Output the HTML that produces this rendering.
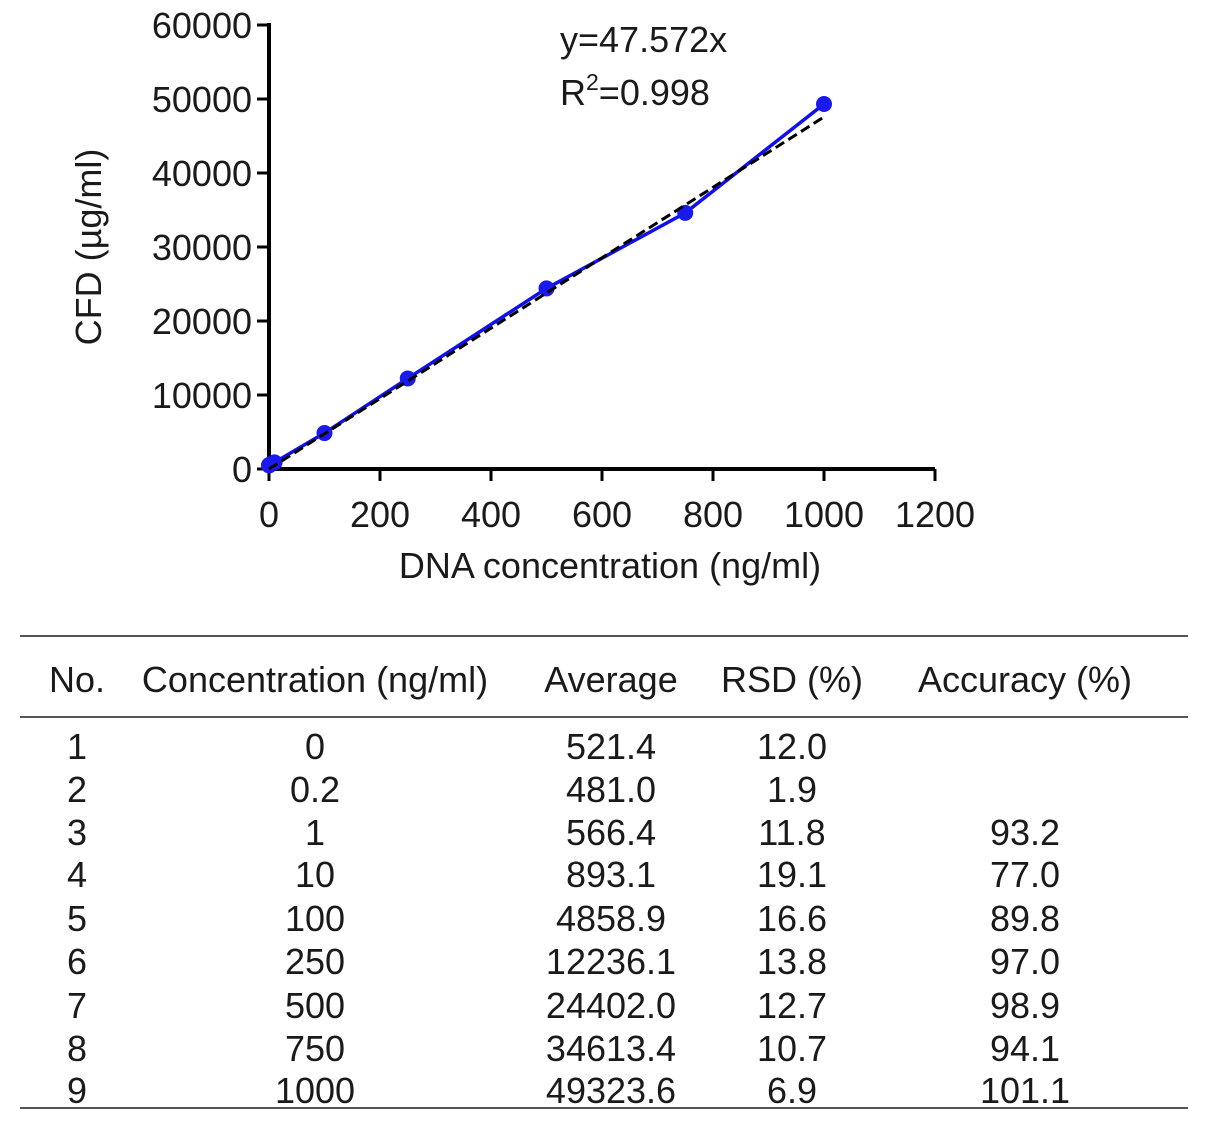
<!DOCTYPE html>
<html><head><meta charset="utf-8"><style>
body{margin:0;background:#fff;width:1205px;height:1126px;overflow:hidden;font-family:"Liberation Sans",Arial,sans-serif}
svg text{font-family:"Liberation Sans",Arial,sans-serif;fill:#1a1a1a}
</style></head><body>
<svg id="s" width="1205" height="1126">
<g id="chart"></g>
<g id="table"></g>
</svg>
<script>
const xVals=[0,0.2,1,10,100,250,500,750,1000];
const yVals=[521.4,481.0,566.4,893.1,4858.9,12236.1,24402.0,34613.4,49323.6];
const xTicks=[0,200,400,600,800,1000,1200];
const yTicks=[0,10000,20000,30000,40000,50000,60000];
const slope=47.572;
const rsd=["12.0","1.9","11.8","19.1","16.6","13.8","12.7","10.7","6.9"];
const acc=["","","93.2","77.0","89.8","97.0","98.9","94.1","101.1"];
const concLabels=["0","0.2","1","10","100","250","500","750","1000"];

const NS="http://www.w3.org/2000/svg";
const X0=269,X1=935,Y0=469,Y1=25;
const FS=36;
const sx=v=>X0+(v/1200)*(X1-X0);
const sy=v=>Y0-(v/60000)*(Y0-Y1);
const chart=document.getElementById('chart');
const tbl=document.getElementById('table');
function mk(tag,attrs,parent,text){const e=document.createElementNS(NS,tag);for(const k in attrs)e.setAttribute(k,attrs[k]);if(text!==undefined)e.textContent=text;parent.appendChild(e);return e;}

let e;
e=mk('line',{x1:X0,y1:Y0,x2:X1,y2:Y0,stroke:'#000','stroke-width':4},chart);


e=mk('line',{x1:X0,y1:Y0,x2:X0,y2:Y1-2,stroke:'#000','stroke-width':4},chart);


xTicks.forEach(t=>{
 mk('line',{x1:sx(t),y1:Y0,x2:sx(t),y2:Y0+12,stroke:'#000','stroke-width':3},chart);
 e=mk('text',{x:sx(t),y:Y0+58,'font-size':FS,'text-anchor':'middle'},chart,t);
 
 
});
yTicks.forEach(t=>{
 mk('line',{x1:X0-12,y1:sy(t),x2:X0,y2:sy(t),stroke:'#000','stroke-width':3},chart);
 e=mk('text',{x:X0-17,y:sy(t)+13,'font-size':FS,'text-anchor':'end'},chart,t);
 
 
});
e=mk('text',{x:610,y:578,'font-size':FS,'text-anchor':'middle'},chart,'DNA concentration (ng/ml)');


e=mk('text',{x:0,y:0,'font-size':FS,'text-anchor':'middle',transform:'translate(101,247) rotate(-90)'},chart,'CFD (µg/ml)');


e=mk('text',{x:560,y:52,'font-size':FS},chart,'y=47.572x');


e=mk('text',{x:560,y:105,'font-size':FS},chart,'');


e.innerHTML='R<tspan dy="-15" font-size="23">2</tspan><tspan dy="15">=0.998</tspan>';
e=mk('polyline',{points:xVals.map((x,i)=>sx(x)+','+sy(yVals[i])).join(' '),fill:'none',stroke:'#1010ee','stroke-width':3.5},chart);


xVals.forEach((x,i)=>{
 const c=mk('circle',{cx:sx(x),cy:sy(yVals[i]),r:8,fill:'#1a1aee'},chart);
 
 
});
e=mk('line',{x1:sx(0),y1:sy(0),x2:sx(1000),y2:sy(slope*1000),stroke:'#000','stroke-width':3,'stroke-dasharray':'10,5'},chart);



[636,717,1108].forEach(y=>{const l=mk('line',{x1:20,y1:y,x2:1188,y2:y,stroke:'#555','stroke-width':2},tbl);
 
 });
const cols=[77,315,611,792,1025];
const heads=["No.","Concentration (ng/ml)","Average","RSD (%)","Accuracy (%)"];
heads.forEach((h,i)=>{const t=mk('text',{x:cols[i],y:692,'font-size':FS,'text-anchor':'middle'},tbl,h);
 
 });
const rowY=[746,789,832,874,918,961,1005,1048,1090];
xVals.forEach((x,i)=>{
 const vals=[String(i+1),concLabels[i],yVals[i].toFixed(1),rsd[i],acc[i]];
 vals.forEach((v,j)=>{const t=mk('text',{x:cols[j],y:rowY[i]+13,'font-size':FS,'text-anchor':'middle'},tbl,v);
  
  });
});
</script>
</body></html>
